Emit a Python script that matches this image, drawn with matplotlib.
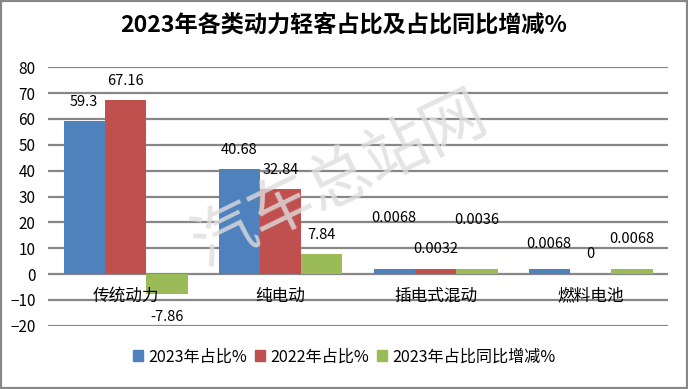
import numpy as np
import matplotlib
matplotlib.use('Agg')
import matplotlib.pyplot as plt
from matplotlib.patches import Rectangle, Patch

plt.rcParams['font.family'] = ['Noto Sans CJK SC', 'DejaVu Sans']

categories = ['传统动力', '纯电动', '插电式混动', '燃料电池']
series = ['2023年占比%', '2022年占比%', '2023年占比同比增减%']
# bar heights as drawn in the picture
share_2023 = [59.3, 40.68, 2.0, 2.0]
share_2022 = [67.16, 32.84, 2.0, 0.0]
change = [-7.86, 7.84, 2.0, 2.0]
# data labels as printed
labels_2023 = ['59.3', '40.68', '0.0068', '0.0068']
labels_2022 = ['67.16', '32.84', '0.0032', '0']
labels_change = ['-7.86', '7.84', '0.0036', '0.0068']
yticks = list(range(-20, 81, 10))

colors = ['#4F81BD', '#C0504D', '#9BBB59']
# label offsets (pixels above the bar end), hand placed like the original
label_dy = [[19, 19, 51, 25],
            [19, 19, 20, 20],
            [-23, 19, 49, 30]]

fig = plt.figure(figsize=(6.88, 3.89), dpi=100)
ax = fig.add_axes([48/688, 1-325.7/389, 620/688, (325.7-67.3)/389])

x = np.arange(len(categories))
w = 0.8 / 3
values = [share_2023, share_2022, change]
texts = [labels_2023, labels_2022, labels_change]
for i in range(3):
    xs = x + (i - 1) * w
    ax.bar(xs, values[i], w, color=colors[i], zorder=3)
    for j in range(len(categories)):
        ax.annotate(texts[i][j], (xs[j], values[i][j]), xytext=(0, label_dy[i][j]),
                    textcoords='offset pixels', ha='center', va='center',
                    fontsize=10.5, color='black', zorder=5)

ax.set_xlim(-0.5, len(categories) - 0.5)
ax.set_ylim(-20, 80)
ax.set_yticks(yticks)
ax.tick_params(axis='y', length=0, pad=9, labelsize=11)
ax.set_xticks([])
ax.grid(axis='y', color='#878787', linewidth=1.6, zorder=0)
for s in ax.spines.values():
    s.set_visible(False)

for j, c in enumerate(categories):
    ax.text(x[j], -8.5, c, ha='center', va='center', fontsize=12, zorder=5)

fig.text(0.5, 1-25/389, '2023年各类动力轻客占比及占比同比增减%', ha='center', va='center',
         fontsize=16.7, fontweight='bold')

# watermark
fig.text(340/688, 1-180/389, '汽车总站网', ha='center', va='center', fontsize=46,
         rotation=26, color='#dedede', alpha=0.8, zorder=0)

handles = [Patch(color=c) for c in colors]
fig.legend(handles, series, loc='center', bbox_to_anchor=(0.5, 1-357/389), ncol=3,
           frameon=False, fontsize=11.6, handlelength=0.65, handleheight=0.65,
           handletextpad=0.3, columnspacing=0.5)

fig.patches.append(Rectangle((0, 0), 1, 1, transform=fig.transFigure, fill=False,
                             edgecolor='#878787', linewidth=3))

fig.savefig('out.png', dpi=100)
